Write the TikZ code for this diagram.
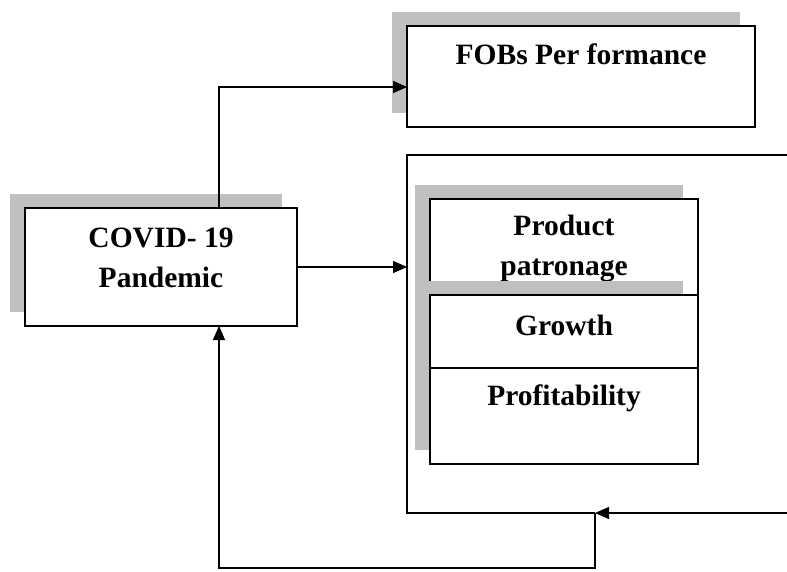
\documentclass[tikz,border=0pt]{standalone}
\usepackage{fontspec}
\setmainfont{Liberation Serif}
\usetikzlibrary{arrows.meta,positioning,shadows}

\begin{document}
\begin{tikzpicture}[x=1pt,y=-1pt,
  box/.style={draw, fill=white, line width=1.4pt, inner sep=0pt, outer sep=0pt,
    general shadow={shadow xshift=-15pt, shadow yshift=14pt, fill=black!25}},
  txt/.style={font=\fontsize{29.5}{40}\selectfont\bfseries, align=center},
  line/.style={line width=1.4pt},
  arr/.style={line width=1.4pt, -{Triangle[length=14pt,width=12pt]}}]
\useasboundingbox (0,0) rectangle (787,572);

% boxes
\node [box, minimum width=272pt, minimum height=118pt] (covid) at (161,267) {};
\node [txt] at (161,258) {COVID- 19\\Pandemic};

\node [box, minimum width=348pt, minimum height=101pt] (fobs) at (581,76.5) {};
\node [txt] at (581,54) {FOBs Per formance};

\node [box, minimum width=268pt, minimum height=96pt] (patron) at (564,247) {};
\node [txt] at (564,249) {Product\\patronage};

\node [box, minimum width=268pt, minimum height=96pt] (profit) at (564,416) {};
\node [txt] at (564,398) {Profitability};

\node [box, minimum width=268pt, minimum height=73pt] (growth) at (564,331.5) {};
\node [txt] at (564,325) {Growth};

% open frame
\coordinate (ftl) at (407,155);
\coordinate (ftr) at (787,155);
\coordinate (fbl) at (407,513);
\coordinate (fbr) at (787,513);
\coordinate (fb) at (595,513);
\coordinate (loop) at (595,568);
\draw [line] (ftr) -- (ftl) -- (fbl) -- (fb);

% connectors
\draw [arr] ([xshift=58pt]covid.north) |- ([yshift=-10.5pt]fobs.west);
\draw [arr] (covid.east) -- (covid.east -| ftl);
\draw [arr] (fbr) -- (fb);
\draw [arr] (fb) -- (loop) -| ([xshift=58pt]covid.south);

\end{tikzpicture}
\end{document}
